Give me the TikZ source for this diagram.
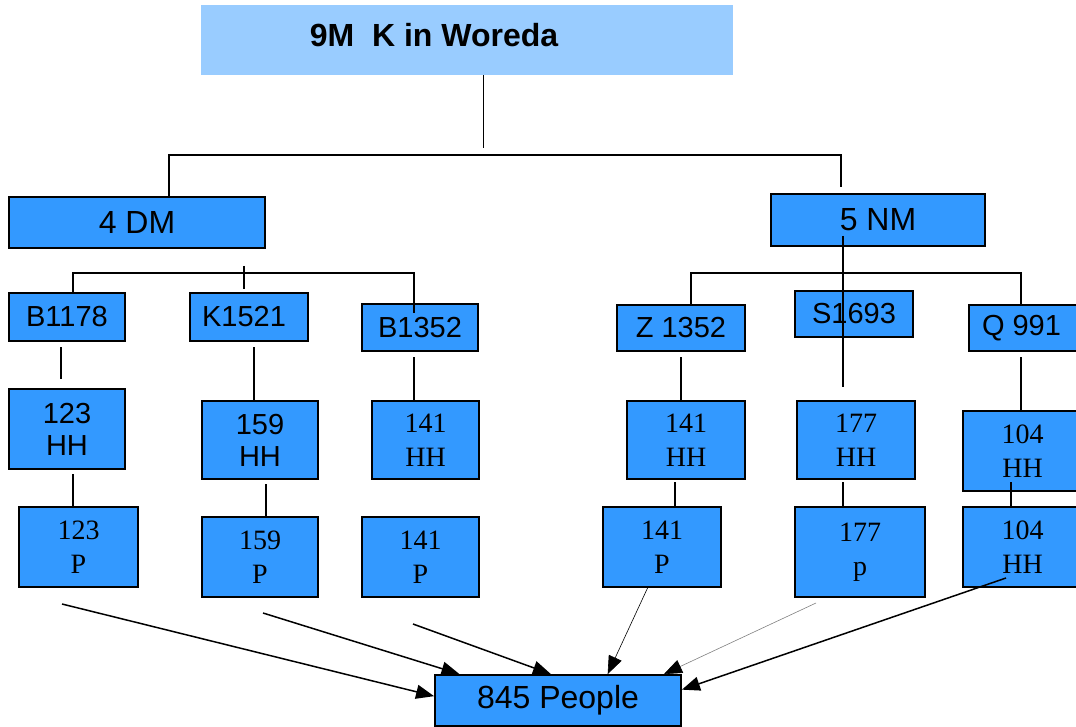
\documentclass[tikz,border=0pt]{standalone}
\usepackage{fontspec}
\setmainfont{Liberation Serif}
\setsansfont{Liberation Sans}
\usetikzlibrary{arrows.meta}
\usetikzlibrary{positioning}
\definecolor{boxblue}{RGB}{51,153,255}
\definecolor{titleblue}{RGB}{153,204,255}
\tikzstyle{block} = [draw, line width=1.8pt, fill=boxblue, rectangle,
    inner sep=0pt, align=center, font=\sffamily\fontsize{29}{32}\selectfont]
\tikzstyle{bigblock} = [block, font=\sffamily\fontsize{32}{36}\selectfont]
\tikzstyle{tblock} = [block, font=\rmfamily\fontsize{28}{34}\selectfont]
\tikzstyle{link} = [line width=1.6pt]
\tikzstyle{feed} = [line width=1.5pt, ->]

\begin{document}
\begin{tikzpicture}[x=1pt, y=-1pt, >={Triangle[length=18pt,width=14pt,color=black]}]
    \useasboundingbox (0,0) rectangle (1076,727);
    \clip (0,0) rectangle (1076,727);
    % We start by placing the blocks
    \node [fill=titleblue, minimum width=532, minimum height=70, inner sep=0pt] (woreda) at (467,40) {};
    \node [font=\sffamily\bfseries\fontsize{32}{36}\selectfont] (woredatext) at (434,35) {9M\ \ K in Woreda};
    \node [bigblock, minimum width=256, minimum height=51] (dm) at (137,222.5) {4 DM};
    \node [bigblock, minimum width=214, minimum height=52] (nm) at (878,220) {5 NM};

    % kebeles
    \node [block, minimum width=116, minimum height=48] (b1178) at (67,317) {B1178};
    \node [block, minimum width=118, minimum height=48] (k1521) at (249,317) {K1521\hspace*{10pt}};
    \node [block, minimum width=116, minimum height=47] (b1352) at (420,327.5) {B1352};
    \node [block, minimum width=128, minimum height=46] (z1352) at (681,328) {Z 1352};
    \node [block, minimum width=118, minimum height=46] (s1693) at (854,314) {S1693};
    \node [block, minimum width=113, minimum height=46] (q991) at (1025.5,328) {Q 991\hspace*{8pt}};

    % households
    \node [block, minimum width=116, minimum height=80] (hh123) at (67,429) {123\\HH};
    \node [block, minimum width=116, minimum height=78] (hh159) at (260,440) {159\\HH};
    \node [tblock, minimum width=107, minimum height=78] (hh141a) at (425.5,440) {141\\HH};
    \node [tblock, minimum width=118, minimum height=78] (hh141b) at (686,440) {141\\HH};
    \node [tblock, minimum width=118, minimum height=78] (hh177) at (856,440) {177\\HH};
    \node [tblock, minimum width=119, minimum height=80] (hh104) at (1022.5,451) {104\\HH};

    % people
    \node [tblock, minimum width=119, minimum height=80] (p123) at (78.5,547) {123\\P};
    \node [tblock, minimum width=116, minimum height=80] (p159) at (260,557) {159\\P};
    \node [tblock, minimum width=117, minimum height=80] (p141a) at (420.5,557) {141\\P};
    \node [tblock, minimum width=118, minimum height=80] (p141b) at (662,547) {141\\P};
    \node [tblock, minimum width=130, minimum height=90] (p177) at (860,552) {177\\p};
    \node [tblock, minimum width=119, minimum height=80] (p104) at (1022.5,547) {104\\HH};

    \node [bigblock, minimum width=246, minimum height=51] (people) at (558,700.5) {845 People};

    % free ends of the lines
    \coordinate (tsplit) at (483,148);
    \coordinate (lbr) at (169,155);
    \coordinate (rbr) at (841,155);
    \coordinate (rend) at (841,187);
    \coordinate (nmtop) at (843,236);
    \coordinate (nmend) at (843,387);
    \coordinate (la) at (73,273);
    \coordinate (lb) at (414,273);
    \coordinate (lbend) at (414,313);
    \coordinate (lc) at (244,266);
    \coordinate (lcend) at (244,289);
    \coordinate (ra) at (691,273);
    \coordinate (rb) at (1021,273);
    \coordinate (v1) at (61,347);
    \coordinate (v1end) at (61,379);
    \coordinate (v2) at (254,347);
    \coordinate (v3) at (414,357);
    \coordinate (v4) at (681,357);
    \coordinate (v5) at (1021,357);
    \coordinate (w1) at (73,474);
    \coordinate (w2) at (266,484);
    \coordinate (w4) at (675,482);
    \coordinate (w5) at (843,482);
    \coordinate (w6) at (1011,482);
    \coordinate (s1) at (62,604);
    \coordinate (s2) at (263,613);
    \coordinate (s3) at (413,624);
    \coordinate (s4) at (648,587);
    \coordinate (s5) at (816,603);
    \coordinate (s6) at (1006,578);

    % Once the nodes are placed, connecting them is easy.
    \draw [line width=1pt] (woreda.south -| tsplit) -- (tsplit);
    \draw [link] (dm.north -| lbr) -- (lbr) -- (rbr) -- (rend);
    \draw [link] (nmtop) -- (nmend);
    \draw [link] (b1178.north -| la) -- (la) -- (lb) -- (lbend);
    \draw [link] (lc) -- (lcend);
    \draw [link] (z1352.north -| ra) -- (ra) -- (rb) -- (q991.north -| rb);
    \draw [link] (v1) -- (v1end);
    \draw [link] (v2) -- (hh159.north -| v2);
    \draw [link] (v3) -- (hh141a.north -| v3);
    \draw [link] (v4) -- (hh141b.north -| v4);
    \draw [link] (v5) -- (hh104.north -| v5);
    \draw [link] (w1) -- (p123.north -| w1);
    \draw [link] (w2) -- (p159.north -| w2);
    \draw [link] (w4) -- (p141b.north -| w4);
    \draw [link] (w5) -- (p177.north -| w5);
    \draw [link] (w6) -- (p104.north -| w6);

    \draw [feed] (s1) -- (people.178);
    \draw [feed] (s2) -- (people.165);
    \draw [feed] (s3) -- (people.105);
    \draw [feed, line width=0.6pt] (s4) -- (people.28.5);
    \draw [feed, line width=0.6pt, draw=gray] (s5) -- (people.14.4);
    \draw [feed] (s6) -- (people.5);
\end{tikzpicture}
\end{document}
